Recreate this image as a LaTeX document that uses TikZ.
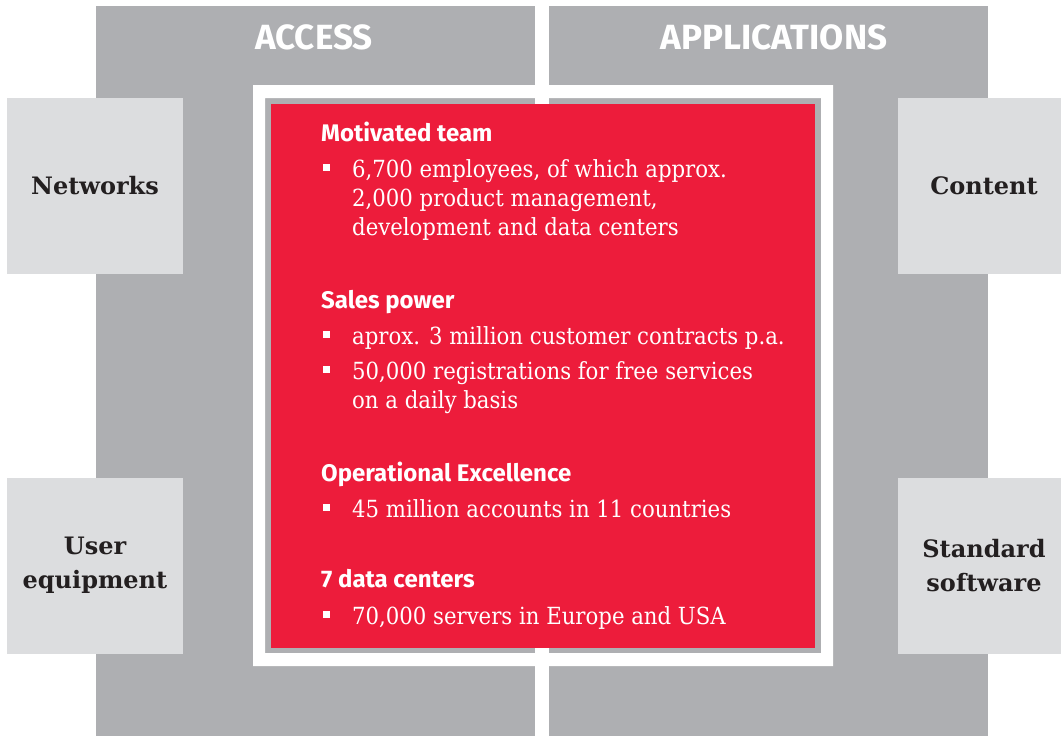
\documentclass[tikz,border=0pt]{standalone}
\usepackage{fontspec}
\setmainfont{DejaVu Serif}
\newfontfamily\headfont{Fira Sans}
\newfontfamily\bodyfont{DejaVu Serif Condensed}
\newfontfamily\boxfont{DejaVu Serif}
\usetikzlibrary{positioning}

\definecolor{panelgray}{HTML}{AEAFB2}
\definecolor{boxgray}{HTML}{DCDDDF}
\definecolor{brandred}{HTML}{ED1C3B}
\definecolor{labeltext}{HTML}{231F20}

\begin{document}
\begin{tikzpicture}[x=1pt,y=-1pt,
	sidebox/.style={fill=boxgray,minimum width=176pt,minimum height=176pt,inner sep=0pt,
		align=center,text=labeltext,font=\boxfont\bfseries\fontsize{24}{34}\selectfont},
	title/.style={text=white,anchor=base,inner sep=0pt,font=\headfont\bfseries\fontsize{35}{40}\selectfont},
	head/.style={text=white,anchor=base west,inner sep=0pt,font=\headfont\bfseries\fontsize{24}{28}\selectfont},
	item/.style={text=white,anchor=base west,inner sep=0pt,font=\bodyfont\fontsize{23.6}{29}\selectfont},
	dot/.style={fill=white,minimum size=7pt,inner sep=0pt}
	]

	\useasboundingbox (0,0) rectangle (1061,736);
	\clip (0,0) rectangle (1061,736);

	% the two big columns
	\fill[panelgray] (96,6) rectangle (535,736);
	\fill[panelgray] (549,6) rectangle (988,736);
	\node[title] (access) at (314,49) {ACCESS};
	\node[title] (applications) at (774,49) {APPLICATIONS};

	% side boxes
	\node[sidebox] (networks) at (95,186) {Networks};
	\node[sidebox] (equipment) at (95,565.5) {User\\equipment};
	\node[sidebox,minimum width=172pt] (content) at (984,186) {Content};
	\node[sidebox,minimum width=172pt] (software) at (984,565.5) {Standard\\software};

	% white frame and red core
	\fill[white,even odd rule] (253,85) rectangle (833,666) (265,98) rectangle (821,653);
	\fill[brandred] (271,104) rectangle (815,648);

	\node[head] (team) at (321,141) {Motivated team};
	\node[item] (t1) at (352,177) {6,700 employees, of which approx.};
	\node[item] (t2) at (352,206) {2,000 product management,};
	\node[item] (t3) at (352,235) {development and data centers};

	\node[head] (sales) at (321,308) {Sales power};
	\node[item] (s1) at (352,344) {aprox. 3 million customer contracts p.a.};
	\node[item] (s2) at (352,379) {50,000 registrations for free services};
	\node[item] (s3) at (352,408) {on a daily basis};

	\node[head] (excellence) at (321,481) {Operational Excellence};
	\node[item] (e1) at (352,517) {45 million accounts in 11 countries};

	\node[head] (centers) at (321,587) {7 data centers};
	\node[item] (c1) at (352,624) {70,000 servers in Europe and USA};

	% bullets
	\foreach \y in {177,344,379,517,624}
		\node[dot] (dot\y) at (326.5,\y-10) {};

\end{tikzpicture}
\end{document}
